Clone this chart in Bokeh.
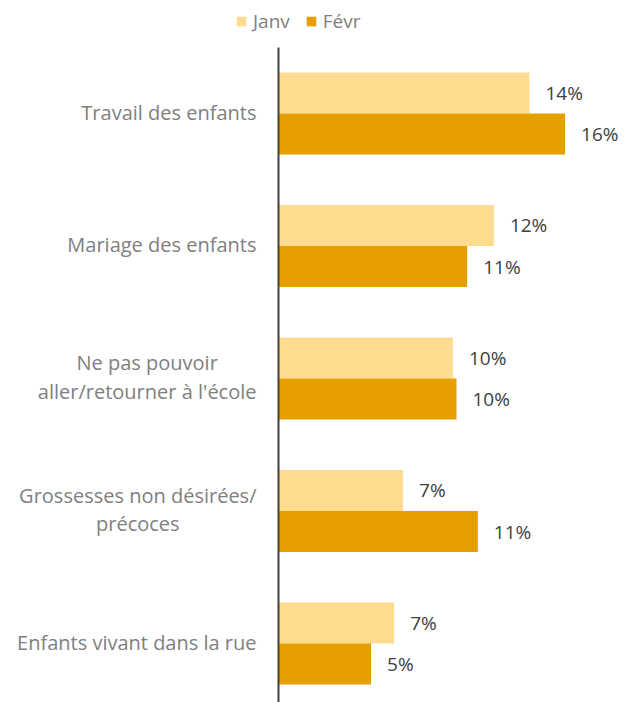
import subprocess, glob
from bokeh.plotting import figure
from bokeh.models import ColumnDataSource, Range1d, Legend, LegendItem
from bokeh.core.properties import value
from bokeh.embed import file_html
from bokeh.resources import INLINE

# ---- data ----
categories = [
    "Travail des enfants",
    "Mariage des enfants",
    "Ne pas pouvoir\naller/retourner à l'école",
    "Grossesses non désirées/\nprécoces",
    "Enfants vivant dans la rue",
]
series = ["Janv", "Févr"]
janv = [14.1, 12.1, 9.8, 7.0, 6.5]
fevr = [16.1, 10.6, 10.0, 11.2, 5.2]
janv_labels = ["14%", "12%", "10%", "7%", "7%"]
fevr_labels = ["16%", "11%", "10%", "11%", "5%"]

# ---- style ----
FONT = "Open Sans"
CAT_SIZE = 20
VAL_SIZE = 19
C_JANV = "#FFDB8F"
C_FEVR = "#E5A000"
C_CAT = "#808080"
C_VAL = "#404040"
PX_PER_UNIT = 17.8
AXIS_X = 278
AXIS_TOP = 47
W, H = 630, 702
FIRST_CENTER = 113
GROUP_PX = 132.5
BAR_H = 0.31


def font_path():
    try:
        out = subprocess.run(["fc-match", "-f", "%{file}", FONT],
                             capture_output=True, text=True, timeout=5).stdout.strip()
        if out:
            return out
    except Exception:
        pass
    for pat in ["/usr/share/fonts/**/OpenSans*.ttf", "/usr/local/share/fonts/**/OpenSans*.ttf"]:
        found = glob.glob(pat, recursive=True)
        if found:
            return found[0]
    return None


def text_width(s, size):
    path = font_path()
    try:
        from PIL import ImageFont
        f = ImageFont.truetype(path, size)
        return f.getlength(s)
    except Exception:
        return len(s) * 0.52 * size


n = len(categories)
pos = [-i for i in range(n)]
y_janv = [p + BAR_H / 2 for p in pos]
y_fevr = [p - BAR_H / 2 for p in pos]

y_end = FIRST_CENTER / GROUP_PX
y_start = y_end - H / GROUP_PX
axis_top = y_end - AXIS_TOP / GROUP_PX

p = figure(width=W, height=H, output_backend="svg", toolbar_location=None,
           x_range=Range1d(-AXIS_X / PX_PER_UNIT, (W - AXIS_X) / PX_PER_UNIT),
           y_range=Range1d(y_start, y_end),
           x_axis_location=None, y_axis_location=None,
           min_border=0)
p.grid.visible = False
p.outline_line_color = None
p.background_fill_color = "white"
p.border_fill_color = "white"

src_j = ColumnDataSource(dict(y=y_janv, v=janv, lab=janv_labels))
src_f = ColumnDataSource(dict(y=y_fevr, v=fevr, lab=fevr_labels))

rj = p.hbar(y="y", right="v", left=0, height=BAR_H, source=src_j,
            fill_color=C_JANV, line_color=None)
rf = p.hbar(y="y", right="v", left=0, height=BAR_H, source=src_f,
            fill_color=C_FEVR, line_color=None)

for src in (src_j, src_f):
    p.text(x="v", y="y", text="lab", source=src, x_offset=16,
           text_align="left", text_baseline="middle",
           text_font=value(FONT), text_font_size=f"{VAL_SIZE}px", text_color=C_VAL)

# category labels: block right-aligned 22px left of axis, lines centred in block
offsets = []
for c in categories:
    wmax = max(text_width(line, CAT_SIZE) for line in c.split("\n"))
    offsets.append(-(22 + wmax / 2))
src_c = ColumnDataSource(dict(x=[0] * n, y=pos, t=categories, xo=offsets))
p.text(x="x", y="y", text="t", x_offset="xo", y_offset=-1.5, source=src_c,
       text_align="center", text_baseline="middle", text_line_height=1.07,
       text_font=value(FONT), text_font_size=f"{CAT_SIZE}px", text_color=C_CAT)

# category axis line
p.segment(x0=[0], x1=[0], y0=[y_start], y1=[axis_top], line_color="#404040", line_width=2)

legend = Legend(items=[LegendItem(label=series[0], renderers=[rj]),
                       LegendItem(label=series[1], renderers=[rf])],
                orientation="horizontal", location=(235, H - 34),
                glyph_width=12, glyph_height=12, label_standoff=6, spacing=15,
                padding=0, margin=0, border_line_color=None, background_fill_alpha=0,
                label_text_font=FONT, label_text_font_size="19px",
                label_text_color=C_CAT)
p.add_layout(legend, "center")

open("out.html", "w").write(file_html(p, INLINE))
